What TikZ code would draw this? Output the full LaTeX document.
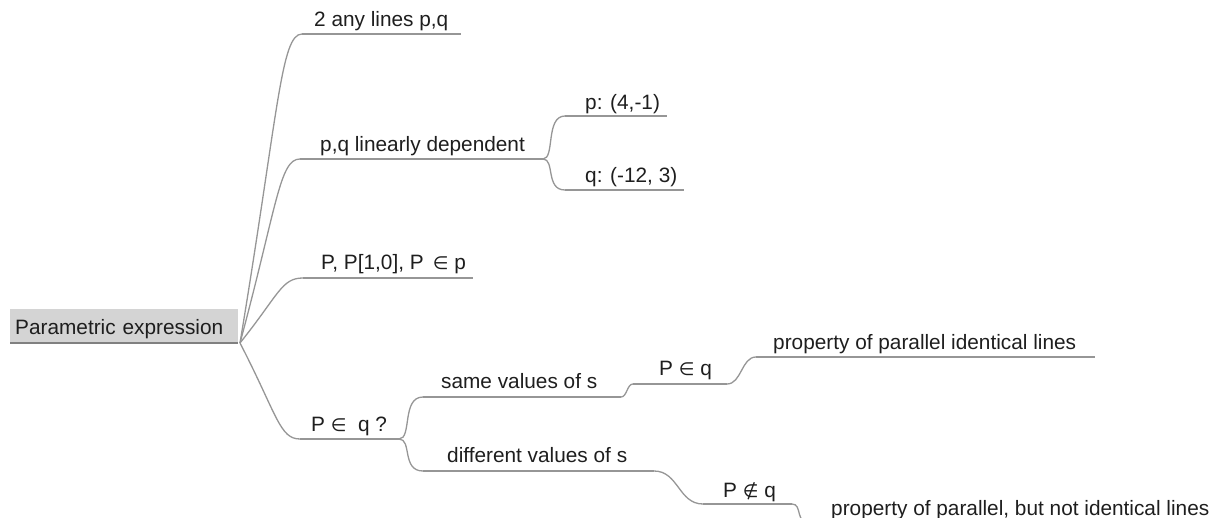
\documentclass[tikz,border=0pt]{standalone}
\usepackage{fontspec}
\setmainfont{Liberation Sans}
\newfontfamily\symf{DejaVu Sans}
\usetikzlibrary{calc}
\definecolor{linkgray}{RGB}{150,150,150}
\definecolor{boxgray}{RGB}{212,212,212}
\definecolor{boxline}{RGB}{128,128,128}
\definecolor{txt}{RGB}{30,30,30}
\newcommand\elm{{\symf\fontsize{18}{20}\selectfont ∈}}
\newcommand\nelm{{\symf\fontsize{18}{20}\selectfont ∉}}
\tikzset{
  topic/.style={anchor=base west, inner sep=0pt, text=txt, font=\fontsize{20.8}{24}\selectfont},
  conn/.style={draw=linkgray, line width=1.3pt},
  rootbox/.style={fill=boxgray, anchor=south west, inner xsep=5pt, inner ysep=0pt,
    text height=26pt, text depth=8pt, text width=218pt, align=left, text=txt,
    font=\fontsize{20.8}{24}\selectfont}
}
% connectors between named points
\newcommand\rootlink[2]{\draw[conn] let \p1=(#1), \p2=(#2) in
  (\p1) .. controls ({\x1+0.62*(\x2-\x1)},{\y1+0.75*(\y2-\y1)}) and ({\x1+0.66*(\x2-\x1)},\y2) .. (\p2);}
\newcommand\bracelink[2]{\draw[conn] let \p1=(#1), \p2=(#2) in
  (\p1) .. controls ({\x1+0.55*(\x2-\x1)},\y1) and ({\x1+0.1*(\x2-\x1)},\y2) .. (\p2);}
\newcommand\slink[2]{\draw[conn] let \p1=(#1), \p2=(#2) in
  (\p1) .. controls ({\x1+0.5*(\x2-\x1)},\y1) and ({\x1+0.5*(\x2-\x1)},\y2) .. (\p2);}
\begin{document}
\begin{tikzpicture}[x=1pt,y=-1pt]
\useasboundingbox (0,0) rectangle (1224,518);

% root
\node[rootbox] (root) at (10,343) {Parametric expression};
\draw[boxline, line width=1.3pt] (root.south west) -- (root.south east);
\coordinate (r) at (240,343);

% level 1
\coordinate (a-s) at (302,34);  \coordinate (a-e) at (461,34);
\node[topic] (a) at (314,27) {2 any lines p,q};
\coordinate (b-s) at (300,159); \coordinate (b-e) at (543,159);
\node[topic] (b) at (320,152) {p,q linearly dependent};
\coordinate (c-s) at (303,278); \coordinate (c-e) at (473,278);
\node[topic] (c) at (321,270) {P, P[1,0], P\, \elm\ p};
\coordinate (d-s) at (300,439); \coordinate (d-e) at (399,439);
\node[topic] (d) at (311,432) {P \elm\ \ q ?};

% level 2
\coordinate (b1-s) at (565,116); \coordinate (b1-e) at (667,116);
\node[topic] (b1) at (585,110) {p: (4,-1)};
\coordinate (b2-s) at (565,190); \coordinate (b2-e) at (684,190);
\node[topic] (b2) at (585,183) {q: (-12, 3)};
\coordinate (d1-s) at (423,397); \coordinate (d1-e) at (621,397);
\node[topic] (d1) at (441,389) {same values of s};
\coordinate (d2-s) at (423,471); \coordinate (d2-e) at (654,471);
\node[topic] (d2) at (447,463) {different values of s};

% level 3
\coordinate (e1-s) at (633,384); \coordinate (e1-e) at (727,384);
\node[topic] (e1) at (659,376) {P \elm\ q};
\coordinate (f1-s) at (756,357); \coordinate (f1-e) at (1095,357);
\node[topic] (f1) at (773,350) {property of parallel identical lines};
\coordinate (e2-s) at (703,504); \coordinate (e2-e) at (792,504);
\node[topic] (e2) at (723,497) {P \nelm\ q};
\coordinate (f2-s) at (812,524); \coordinate (f2-e) at (1215,524);
\node[topic] (f2) at (831,515) {property of parallel, but not identical lines};

% underlines
\foreach \n in {a,b,c,d,b1,b2,d1,d2,e1,f1,e2,f2}
  \draw[conn] (\n-s) -- (\n-e);

% connectors
\rootlink{r}{a-s}
\rootlink{r}{b-s}
\rootlink{r}{c-s}
\rootlink{r}{d-s}
\bracelink{b-e}{b1-s}
\bracelink{b-e}{b2-s}
\bracelink{d-e}{d1-s}
\bracelink{d-e}{d2-s}
\slink{d1-e}{e1-s}
\slink{e1-e}{f1-s}
\slink{d2-e}{e2-s}
\bracelink{e2-e}{f2-s}
\end{tikzpicture}
\end{document}
